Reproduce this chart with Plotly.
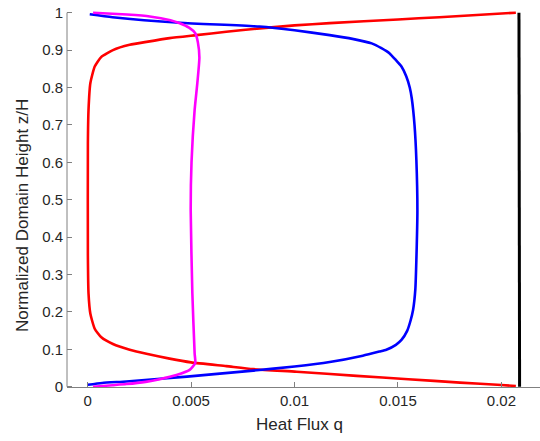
import plotly.graph_objects as go

# Red series (heat flux q, normalized height z/H)
red_q = [0.0207, 0.0200, 0.0180, 0.0155, 0.0130, 0.0101, 0.0080, 0.0067, 0.0050, 0.00396,
         0.00284, 0.00203, 0.00122, 0.00066, 0.00034, 0.00013, 0.00004, 0.00001, 0.00001,
         0.00004, 0.00013, 0.00034, 0.00066, 0.00122, 0.00203, 0.00284, 0.00396, 0.00525,
         0.0067, 0.00832, 0.0100, 0.0117, 0.0150, 0.0170, 0.0207]
red_z = [0.002, 0.0045, 0.011, 0.020, 0.029, 0.040, 0.047, 0.055, 0.065, 0.075,
         0.088, 0.099, 0.114, 0.132, 0.155, 0.195, 0.25, 0.35, 0.65,
         0.74, 0.812, 0.856, 0.882, 0.900, 0.914, 0.922, 0.932, 0.940,
         0.949, 0.958, 0.966, 0.972, 0.982, 0.988, 1.000]

# Blue series
blue_q = [0.0000, 0.0007, 0.00187, 0.0048, 0.0080, 0.0100, 0.0117, 0.0133, 0.0141, 0.01444,
          0.0149, 0.01517, 0.01545, 0.0156, 0.01573, 0.01584, 0.01589, 0.01594, 0.01589,
          0.0158, 0.01567, 0.01557, 0.0154, 0.01517, 0.0149, 0.0146, 0.0142, 0.01373,
          0.0128, 0.0117, 0.0100, 0.0083, 0.00445, 0.0012, 0.0001]
blue_z = [0.005, 0.010, 0.014, 0.027, 0.043, 0.054, 0.066, 0.083, 0.094, 0.099,
          0.112, 0.125, 0.150, 0.175, 0.205, 0.26, 0.339, 0.472, 0.606,
          0.70, 0.77, 0.80, 0.83, 0.856, 0.873, 0.891, 0.905, 0.918,
          0.930, 0.940, 0.953, 0.963, 0.973, 0.988, 0.996]

# Magenta series
mag_q = [0.00026, 0.0012, 0.00187, 0.0028, 0.00348, 0.00429, 0.00493, 0.0052, 0.00517,
         0.00506, 0.00498, 0.00502, 0.00517, 0.0053, 0.0054, 0.00533, 0.0052, 0.0049,
         0.00445, 0.0040, 0.0030, 0.0019, 0.00026]
mag_z = [0.000, 0.004, 0.007, 0.013, 0.020, 0.031, 0.045, 0.063, 0.089,
         0.25, 0.472, 0.60, 0.74, 0.811, 0.88, 0.92, 0.945, 0.96,
         0.972, 0.98, 0.99, 0.995, 1.0]

# Black series
black_q = [0.02088, 0.02085]
black_z = [0.0, 1.0]

x_ticks = [0, 0.005, 0.01, 0.015, 0.02]
x_ticklabels = ["0", "0.005", "0.01", "0.015", "0.02"]
y_ticks = [0, 0.1, 0.2, 0.3, 0.4, 0.5, 0.6, 0.7, 0.8, 0.9, 1]
y_ticklabels = ["0", "0.1", "0.2", "0.3", "0.4", "0.5", "0.6", "0.7", "0.8", "0.9", "1"]

FONT = "Liberation Sans, Arial, Helvetica, sans-serif"
TXT = "#262626"
AX = "#808080"

X_RANGE = [-0.001, 0.021867]
Y_RANGE = [0, 1]

# The plotting area is a little taller than the visible axis span (z in [0, 1]) so the
# thick lines are not clipped at z=0 and z=1; the x axis is placed at z=0.
T, B = 3, 44
PLOT_H = 441 - T - B
Y_TOP_PX, Y_BOT_PX = 12.7, 386.7
x_axis_pos = (441 - B - Y_BOT_PX) / PLOT_H
px_per_unit = (Y_BOT_PX - Y_TOP_PX) / (Y_RANGE[1] - Y_RANGE[0])
plot_y_range = [Y_RANGE[0] - (441 - B - Y_BOT_PX) / px_per_unit,
                Y_RANGE[1] + (Y_TOP_PX - T) / px_per_unit]

fig = go.Figure()
fig.add_trace(go.Scatter(x=black_q, y=black_z, mode="lines", hoverinfo="skip",
                         line=dict(color="black", width=3)))
fig.add_trace(go.Scatter(x=red_q, y=red_z, mode="lines", hoverinfo="skip",
                         line=dict(color="#ff0000", width=2.6, shape="spline", smoothing=0.5)))
fig.add_trace(go.Scatter(x=blue_q, y=blue_z, mode="lines", hoverinfo="skip",
                         line=dict(color="#0000ff", width=2.6, shape="spline", smoothing=0.5)))
fig.add_trace(go.Scatter(x=mag_q, y=mag_z, mode="lines", hoverinfo="skip",
                         line=dict(color="#ff00ff", width=2.6, shape="spline", smoothing=0.5)))

fig.update_layout(
    width=540, height=441,
    margin=dict(l=67, r=0, t=T, b=B),
    paper_bgcolor="white", plot_bgcolor="white",
    showlegend=False,
    font=dict(family=FONT, color=TXT, size=15),
    xaxis=dict(range=X_RANGE, tickvals=x_ticks, ticktext=x_ticklabels,
               anchor="free", position=x_axis_pos,
               showgrid=False, zeroline=False, showline=True, linecolor=AX, linewidth=1,
               ticks="inside", ticklen=5, tickcolor=AX, tickfont=dict(size=15, color=TXT),
               ticklabelstandoff=0),
    yaxis=dict(range=plot_y_range, tickvals=y_ticks, ticktext=y_ticklabels,
               showgrid=False, zeroline=False, showline=False,
               ticks="inside", ticklen=5, tickcolor=AX, tickfont=dict(size=15, color=TXT),
               ticklabelstandoff=3),
    shapes=[dict(type="line", xref="paper", yref="y", x0=0, x1=0,
                 y0=Y_RANGE[0], y1=Y_RANGE[1], line=dict(color=AX, width=1), layer="below")],
    annotations=[
        dict(text="Heat Flux q", xref="paper", yref="paper", x=0.4905,
             y=(441 - B - 424) / PLOT_H,
             xanchor="center", yanchor="middle", showarrow=False,
             font=dict(size=17, color=TXT, family=FONT)),
        dict(text="Normalized Domain Height z/H", xref="paper", yref="paper", x=-0.0951,
             y=(441 - B - 216) / PLOT_H,
             xanchor="center", yanchor="middle", showarrow=False, textangle=-90,
             font=dict(size=17, color=TXT, family=FONT)),
    ],
)

fig.write_html("out.html", config={"displayModeBar": False},
               post_script="document.body.style.margin='0px';")
